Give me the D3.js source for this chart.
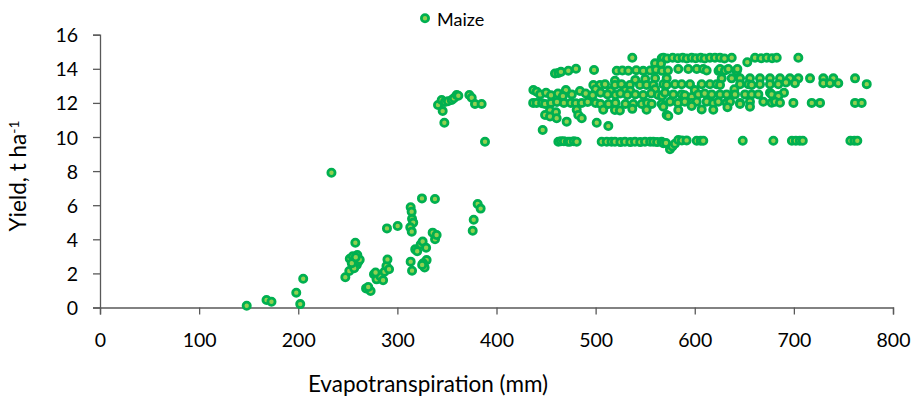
<!DOCTYPE html>
<html><head><meta charset="utf-8">
<script src="https://cdn.jsdelivr.net/npm/d3@7"></script>
<style>
html,body{margin:0;padding:0;background:#fff;}
svg{display:block;font-family:Lato,"Open Sans",sans-serif;}
</style></head>
<body><svg id="c" width="918" height="400"></svg>
<script>
// ---- data: [evapotranspiration (mm), yield (t/ha)] ----
const seriesName = "Maize";
const xTicks = [0,100,200,300,400,500,600,700,800];
const yTicks = [0,2,4,6,8,10,12,14,16];

const lowPoints = [[148,0.1],[168,0.44],[173,0.34],[198,0.87],[202,0.2],[205,1.69],[233.5,7.9],
[247.5,1.77],[251.5,2.14],[252,2.86],[255,3.0],[257.6,3.8],[259,2.5],[259.6,3.08],[260.6,2.69],[256.4,2.3],[262,2.8],[254,2.6],[258,2.95],
[268.4,1.12],[273,0.97],[270.6,1.2],
[276.4,1.95],[279,1.65],[283,1.82],[285.6,1.6],[287,2.1],[289,2.43],[290,2.82],[291.6,2.24],[289.5,4.64],[300.3,4.78],[278,2.05],
[313.4,5.88],[314.4,5.62],[314.8,5.2],[316,4.98],[313,4.7],[314.5,4.45],[313.4,2.69],[314.8,2.16],
[318,3.41],[320,3.3],[323.5,3.7],[325.5,3.87],[324.8,6.4],[329,3.5],[329.5,2.78],[326,2.6],[327.5,2.35],[325,2.5],[337.9,6.36],[335.6,4.39],[338,4.0],[339.6,4.25],
[376,4.5],[377,5.15],[381,6.07],[384,5.8]];

const ringPoints = [[341,11.88],[344.7,12.17],[345.7,11.52],[347.4,10.84],[348,12.06],[351,12.1],[354.8,12.17],[357,12.27],[359.8,12.46],[361.5,12.42],[372.6,12.46],[375,12.3],[378.3,11.94],[385,11.94],[388.4,9.72]];

const row14_6 = [[537,14.65],[566.7,14.62],[568.3,14.65],[572,14.6],[577.7,14.65],[583,14.62],[587.8,14.65],[592,14.6],[596.9,14.65],[601,14.62],[606,14.65],[610,14.6],[615.3,14.65],[620.4,14.65],[625.5,14.65],[630,14.6],[637.3,14.65],[653,14.38],[660.8,14.65],[667,14.62],[672.6,14.65],[678,14.62],[682.7,14.65],[704.5,14.65],[560,14.32],[566,14.3]];

const row13_9 = [[459,13.72],[462.4,13.76],[465,13.82],[472.5,13.89],[480.2,14.0],[498.4,13.93],[521.3,13.89],[527,13.9],[533,13.89],[541,13.92],[548,13.88],[555,13.9],[561,13.95],[567,13.88],[573,13.9],[583.4,13.99],[593.5,13.99],[602,13.99],[608.6,13.99],[612,13.9],[624,13.88],[625.5,13.99],[630.5,13.9],[633.9,13.99],[642.3,13.85],[643,13.99]];

const row13_4 = [[571.7,13.44],[627.2,13.44],[637.3,13.44],[645.7,13.44],[655.7,13.44],[665.8,13.44],[675.9,13.44],[686,13.44],[696,13.44],[704.5,13.44],[716.3,13.44],[729.7,13.44],[739.8,13.44],[761.7,13.44],[519.5,13.3],[550,13.4],[560,13.45],[540,13.35]];

const row13_1 = [[497.7,13.05],[504.4,13.05],[509.5,13.09],[519.5,13.05],[526,13.1],[534.6,13.05],[544.7,13.05],[551.4,13.05],[558.2,13.05],[568.3,13.09],[571.6,13.05],[580.1,13.09],[586.8,13.09],[595.2,13.09],[607,13.09],[615.3,13.09],[622.1,13.09],[625.5,13.05],[645.7,13.09],[654,13.09],[657.4,13.05],[665.8,13.09],[675.9,13.09],[684.3,13.09],[692,13.2],[701.1,13.15],[729.7,13.15],[736.4,13.15],[744.8,13.15],[773.5,13.1]];

const row12_7 = [[437.2,12.76],[440.5,12.66],[470,12.75],[484.2,12.7],[500,12.8],[515,12.7],[530,12.75],[535,12.7],[560,12.8],[600,12.75],[640,12.8],[675.9,12.6],[690,12.6]];

const row12_5 = [[444,12.5],[450,12.6],[455,12.45],[462,12.55],[467,12.4],[476,12.5],[490,12.55],[497,12.45],[505,12.6],[512,12.5],[520,12.46],[525,12.55],[532,12.46],[540,12.5],[548,12.46],[556,12.55],[563,12.46],[567,12.4],[570,12.6],[578.4,12.5],[586.8,12.5],[590,12.45],[597,12.35],[603.6,12.5],[610,12.55],[617.1,12.5],[625.5,12.5],[632.2,12.5],[640.6,12.5],[650.7,12.5],[657.4,12.5],[664.2,12.5],[677.6,12.5],[684.3,12.4]];

const row12_0 = [[437,12.0],[440.5,12.0],[446,11.98],[449,11.94],[455,12.0],[461,12.05],[468,12.0],[475,12.0],[480,11.98],[486,12.0],[492,12.05],[500,12.0],[505,11.94],[513,11.94],[520,12.0],[530,11.94],[538,11.94],[546.5,11.94],[552,12.0],[556.6,11.94],[566.6,11.94],[575,12.07],[583,12.0],[590,12.07],[597,12.0],[602,12.07],[612,12.07],[618.7,11.98],[623.8,12.07],[632.2,12.01],[635.6,12.07],[645.7,12.0],[655.7,12.07],[669.2,12.07],[677.6,12.01],[681,12.07],[686,12.01],[699.5,12.0],[718,12.0],[726.4,12.0],[761.7,12.0],[768.4,12.0]];

const row11_5 = [[454,11.55],[460,11.45],[480.9,11.6],[482.5,11.29],[507.7,11.6],[519.5,11.58],[524.5,11.55],[537,11.65],[551.4,11.6],[568.3,11.78],[571.7,11.29],[573.3,11.23],[583.4,11.58],[596.9,11.82],[607,11.62],[618.7,11.6],[633,11.75],[645.7,11.94],[655.7,11.78],
[449,11.29],[454,11.2],[460.7,11.1],[470.8,10.9],[486,11.1],[501.1,10.84],[512.8,10.64],[446.6,10.41]];

const row9_7 = [[462.4,9.72],[465,9.75],[468,9.75],[472,9.72],[474.1,9.72],[478,9.75],[480.9,9.72],[506.1,9.72],[511.2,9.72],[516,9.72],[519.5,9.72],[525,9.7],[529.6,9.72],[535,9.7],[539.7,9.72],[545,9.7],[549.8,9.72],[555,9.72],[558.2,9.72],[562,9.7],[566.6,9.72],[568.3,9.63],[571,9.65],[575,9.28],[577.4,9.45],[580,9.6],[583.4,9.82],[587,9.8],[591.8,9.8],[602,9.78],[606,9.78],[608.6,9.78],[648.4,9.78],[679.3,9.78],[698,9.78],[702,9.78],[706,9.78],[709,9.78],[757,9.78],[761,9.78],[764,9.78]];

const allPoints = [].concat(lowPoints, ringPoints, row14_6, row13_9, row13_4, row13_1, row12_7, row12_5, row12_0, row11_5, row9_7);

// ---- layout ----
const svg = d3.select("#c");
const x = d3.scaleLinear().domain([0,800]).range([100,893]);
const y = d3.scaleLinear().domain([0,16]).range([307.5,34.7]);
const axisColor = "#595959";
const tickFont = 19.5;
const titleFont = 22.5;
const legendFont = 18;

// x axis
const gx = svg.append("g").attr("transform","translate(0,307.5)")
  .call(d3.axisBottom(x).tickValues(xTicks).tickSize(7).tickFormat(d3.format("d")));
gx.select(".domain").attr("stroke",axisColor).attr("stroke-width",1.3);
gx.selectAll(".tick line").attr("stroke",axisColor).attr("stroke-width",1.3);
gx.selectAll(".tick text").attr("y",39.5).attr("dy","0").attr("fill","#000")
  .attr("font-size",tickFont).attr("font-family","Lato");

// y axis
const gy = svg.append("g").attr("transform","translate(100,0)")
  .call(d3.axisLeft(y).tickValues(yTicks).tickSize(7).tickPadding(15).tickFormat(d3.format("d")));
gy.select(".domain").attr("stroke",axisColor).attr("stroke-width",1.3);
gy.selectAll(".tick line").attr("stroke",axisColor).attr("stroke-width",1.3);
gy.selectAll(".tick text").attr("dy","0.36em").attr("fill","#000")
  .attr("font-size",tickFont).attr("font-family","Lato");

// points
svg.append("g").selectAll("circle").data(allPoints).join("circle")
  .attr("cx",d=>x(d[0])).attr("cy",d=>y(d[1])).attr("r",3.6)
  .attr("fill","#92D050").attr("stroke","#00B050").attr("stroke-width",2.8);

// legend
svg.append("circle").attr("cx",425).attr("cy",18.3).attr("r",3.6)
  .attr("fill","#92D050").attr("stroke","#00B050").attr("stroke-width",2.8);
svg.append("text").attr("x",437).attr("y",25.5).attr("font-size",legendFont)
  .attr("fill","#000").text(seriesName);

// axis titles
svg.append("text").attr("x",428).attr("y",392).attr("text-anchor","middle")
  .attr("font-size",titleFont).attr("fill","#000").text("Evapotranspiration (mm)");
const yt = svg.append("text").attr("transform","translate(26,176) rotate(-90)")
  .attr("text-anchor","middle").attr("font-size",titleFont).attr("fill","#000");
yt.append("tspan").text("Yield, t ha");
yt.append("tspan").attr("dy","-0.5em").attr("font-size",titleFont*0.62).text("-1");
</script></body></html>
